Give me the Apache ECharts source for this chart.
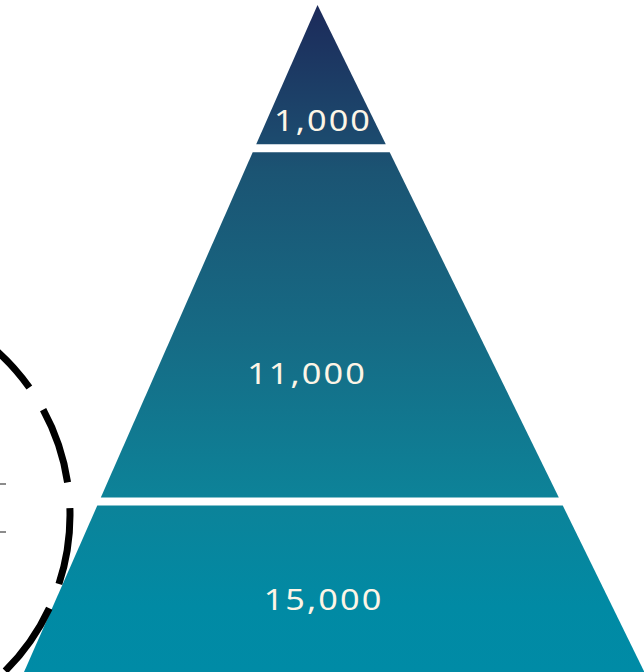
<!DOCTYPE html>
<html><head><meta charset="utf-8">
<script src="https://cdn.jsdelivr.net/npm/echarts@6/dist/echarts.min.js"></script>
<style>
html,body{margin:0;padding:0;background:#fff;}
#main{width:644px;height:672px;}
#main text{letter-spacing:1.8px;}
</style></head><body><div id="main"></div>
<script>
// ---- data ----
const categories = ['Top', 'Middle', 'Base'];
const values = [1000, 11000, 15000];
const valueLabels = ['1,000', '11,000', '15,000'];

// ---- style ----
const SLOPE_L = 0.44, SLOPE_R = 0.49, GAP = 8;
const LABEL_FRAC = [0.82, 0.637, 0.382];
const LABEL_DX = [5.5, -10.5, 6];

const cum = [];
values.reduce((a, v, i) => { cum[i] = a + v; return cum[i]; }, 0);
const depths = cum.map(Math.sqrt);

const fillGrad = new echarts.graphic.LinearGradient(0, 5, 0, 672, [
  { offset: 0, color: '#1c2a5a' },
  { offset: 0.2, color: '#1c4a6e' },
  { offset: 0.25, color: '#1b5473' },
  { offset: 0.5, color: '#166b85' },
  { offset: 0.73, color: '#0d8298' },
  { offset: 0.9, color: '#018aa4' },
  { offset: 1, color: '#008ba6' }
], true);

const chart = echarts.init(document.getElementById('main'), null, { renderer: 'svg' });

function renderItem(params, api) {
  const i = params.dataIndex;
  const n = values.length;
  const dTop = i ? depths[i - 1] : 0;
  const dBot = depths[i];
  const apex = api.coord([0, 0]);
  const pTop = api.coord([0, dTop]);
  const pBot = api.coord([0, dBot]);
  const yTop = pTop[1] + (i > 0 ? GAP / 2 : 0);
  const yBot = pBot[1] - (i < n - 1 ? GAP / 2 : 0);
  const xl = y => apex[0] - SLOPE_L * (y - apex[1]);
  const xr = y => apex[0] + SLOPE_R * (y - apex[1]);
  const pts = [[xl(yTop), yTop], [xr(yTop), yTop], [xr(yBot), yBot], [xl(yBot), yBot]];
  const ly = yTop + LABEL_FRAC[i] * (yBot - yTop);
  return {
    type: 'group',
    children: [
      { type: 'polygon', shape: { points: pts }, style: { fill: fillGrad } },
      { type: 'text', x: apex[0] + LABEL_DX[i], y: ly, scaleX: 1.18, z2: 10,
        style: { text: valueLabels[i], fill: '#fdf5e6', fontSize: 29,
                 fontFamily: 'Noto Sans', align: 'center', verticalAlign: 'middle' } }
    ]
  };
}

chart.setOption({
  animation: false,
  backgroundColor: '#ffffff',
  grid: { left: 0, right: 0, top: 0, bottom: 0 },
  xAxis: { type: 'value', min: -70.06, max: 72.04, show: false },
  yAxis: { type: 'value', inverse: true, min: -1.103, max: 147.17, show: false },
  series: [{
    type: 'custom',
    name: 'Pyramid',
    renderItem: renderItem,
    data: values.map((v, i) => ({ name: categories[i], value: [i, v] })),
    clip: false
  }],
  graphic: { elements: [
    { type: 'arc', z: 100,
      shape: { cx: -150, cy: 515, r: 220, startAngle: -1.2, endAngle: 1.0, clockwise: true },
      style: { stroke: '#000', lineWidth: 7, fill: null, lineDash: [77, 26], lineDashOffset: 52 } },
    { type: 'line', z: 100, shape: { x1: 0, y1: 484, x2: 6, y2: 484 }, style: { stroke: '#8c8c8c', lineWidth: 2 } },
    { type: 'line', z: 100, shape: { x1: 0, y1: 532, x2: 6, y2: 532 }, style: { stroke: '#8c8c8c', lineWidth: 2 } }
  ] }
});
</script></body></html>
